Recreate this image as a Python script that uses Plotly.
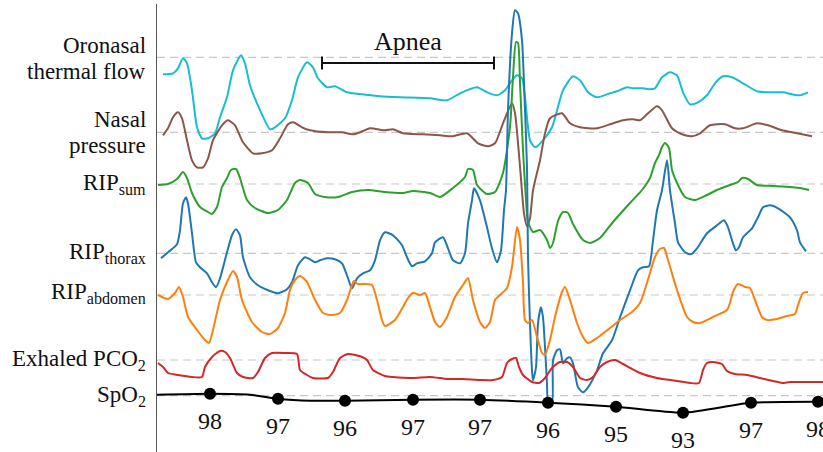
import plotly.graph_objects as go

# ---------------- data (time in samples, amplitude in display units) -------------
t_oro = [6,16,21,26,30,35,40,45,51,58,63,70,76,84,88,93,100,113,118,128,135,141,150,156,161,170,178,190,205,223,243,273,290,303,320,330,340,348,355,360,365,368,373,378,386,395,406,416,423,431,440,453,460,470,476,486,493,498,505,513,520,526,533,541,550,558,566,575,586,600,613,626,635,643,651]
v_oro = [-17,-16,-11,-1,-6,-33,-70,-81,-81,-76,-60,-40,-13,2,-6,-28,-46,-72,-70,-61,-43,-20,-5,-10,-21,-30,-29,-35,-37,-39,-40,-41,-43,-36,-30,-35,-38,-33,-23,-18,-21,-40,-83,-90,-83,-70,-33,-19,-23,-35,-40,-36,-34,-30,-31,-31,-32,-31,-20,-15,-18,-35,-47,-45,-38,-26,-19,-20,-26,-34,-35,-35,-37,-38,-35]

t_nasal = [6,11,16,21,25,30,35,40,46,51,56,65,71,78,86,96,105,115,123,131,136,145,153,171,185,196,203,213,228,236,246,266,283,295,310,321,331,338,346,355,358,363,367,370,373,376,383,388,393,405,413,423,440,453,466,476,483,491,500,505,515,525,535,543,553,568,578,586,600,611,625,640,655]
v_nasal = [-3,4,15,20,14,-8,-28,-35,-35,-26,-8,7,12,7,-10,-21,-21,-18,-6,8,10,5,2,0,0,-2,0,4,2,3,-1,-2,-3,-4,-1,-11,-14,-11,9,29,19,-34,-81,-94,-86,-58,-28,-1,14,19,9,5,4,8,12,13,12,19,26,22,4,-2,-4,-1,7,8,4,4,9,7,2,-1,-4]

t_sum = [1,11,20,26,30,35,43,51,55,60,65,70,74,79,83,90,98,111,121,130,138,143,151,158,168,181,195,211,228,246,256,273,283,296,308,311,316,320,330,338,346,353,356,359,361,363,366,369,371,376,383,390,393,396,401,406,411,416,426,433,443,456,473,485,493,498,502,505,508,512,515,520,528,538,550,560,573,581,585,591,600,616,643,652]
v_sum = [-1,0,5,12,6,-9,-23,-28,-30,-23,-3,6,14,15,6,-16,-24,-29,-26,-16,1,4,1,-10,-13,-13,-8,-6,-8,-9,-7,-9,-13,-4,7,15,14,-1,-10,-8,11,57,107,142,141,101,34,-16,-38,-48,-46,-56,-64,-59,-37,-28,-29,-40,-56,-59,-54,-38,-19,-6,6,21,29,37,41,36,14,1,-13,-16,-11,-6,-1,2,6,5,-1,-2,-4,-6]

t_thorax = [4,11,20,23,26,29,31,35,39,43,50,55,59,63,70,75,79,83,86,93,101,111,121,130,135,141,148,153,158,163,170,178,185,190,195,200,206,213,218,223,228,236,245,250,255,260,268,275,278,286,291,296,303,308,311,315,317,323,330,335,340,344,347,349,351,355,358,361,365,367,370,371,373,375,376,379,381,384,386,388,390,391,395,396,400,403,406,410,413,416,421,426,431,440,446,455,463,473,481,486,492,496,500,505,510,513,518,521,528,534,540,550,560,567,571,576,579,582,586,595,601,606,613,621,633,640,643,649]
v_thorax = [-5,1,9,23,50,56,50,20,-9,-14,-20,-29,-34,-25,1,18,24,18,-4,-24,-32,-37,-40,-36,-29,-12,-4,-6,-9,-7,-5,-6,-10,-22,-35,-25,-20,-17,-7,13,21,18,8,-4,-13,-10,-8,0,11,16,5,-7,-10,0,30,53,65,53,26,5,-9,3,43,63,143,220,243,240,213,170,86,-4,-70,-117,-127,-114,-70,-54,-64,-94,-130,-147,-149,-107,-97,-96,-110,-105,-104,-110,-134,-139,-134,-117,-100,-87,-64,-37,-17,-14,-13,13,43,63,93,63,30,11,1,-1,5,20,28,33,26,10,3,6,16,25,36,46,48,45,36,23,11,2]

t_abd = [1,11,18,22,26,31,40,48,52,56,63,70,76,80,85,95,105,113,121,128,133,138,143,150,158,166,175,183,190,195,197,201,208,215,220,225,228,238,246,251,256,263,268,273,278,283,290,298,306,311,316,323,328,333,338,343,350,355,360,363,366,368,371,375,380,385,388,393,398,405,408,413,420,426,431,440,453,463,475,483,490,498,503,507,511,520,530,536,543,556,570,573,576,581,588,593,598,605,610,620,630,638,641,646,651]
v_abd = [0,-4,2,8,-2,-22,-35,-45,-48,-35,-5,13,24,18,-5,-27,-37,-39,-33,-18,5,15,19,13,-5,-18,-20,-18,-5,10,14,11,11,10,-5,-25,-31,-25,-12,-3,2,0,2,-12,-27,-32,-22,-2,10,17,-5,-27,-33,-27,-5,0,7,28,68,55,12,-25,-28,-25,-42,-58,-60,-45,-22,3,8,-5,-28,-42,-48,-43,-33,-25,-17,-8,12,38,46,47,35,5,-22,-27,-28,-22,-15,-8,3,11,8,7,-5,-22,-25,-24,-21,-19,-10,2,3]

t_pco2 = [1,6,11,21,35,45,48,55,63,68,73,80,86,96,101,108,115,128,140,143,150,156,171,176,183,191,205,210,216,228,236,256,273,290,306,323,336,345,350,355,359,362,366,375,382,388,395,403,410,416,423,430,436,443,450,458,466,483,500,520,533,542,546,550,556,565,570,578,590,603,616,625,633,650,666]
v_pco2 = [-3,-7,-13,-15,-17,-17,-7,3,9,8,2,-13,-17,-18,-12,2,7,7,6,-10,-15,-18,-18,-12,2,6,3,0,-10,-16,-17,-18,-17,-19,-19,-20,-20,-17,-3,1,2,-7,-15,-22,-23,-18,-8,-2,-2,-7,-18,-20,-17,-7,-2,0,-4,-13,-18,-21,-23,-23,-10,-3,-2,-4,-11,-14,-15,-18,-21,-23,-22,-22,-22]

t_spo2_trace = [0,53,93,121,153,188,256,323,391,459,526,594,661,666]
v_spo2_trace = [1,2,1,-3,-5,-5,-4,-4,-7,-11,-17,-7,-6,-6]

t_spo2 = [53,121,188,256,323,391,459,526,594,661]
v_spo2_mark = [2,-3,-5,-4,-4,-7,-11,-17,-7,-6]
spo2_values = [98,97,96,97,97,96,95,93,97,98]

apnea_start, apnea_end = 165, 337

channel_labels = ["Oronasal<br>thermal flow", "Nasal<br>pressure", "RIP<sub>sum</sub>",
                  "RIP<sub>thorax</sub>", "RIP<sub>abdomen</sub>", "Exhaled PCO<sub>2</sub>", "SpO<sub>2</sub>"]

# ---------------- layout constants -------------
offsets = [394.7, 319.7, 268, 198.7, 157, 92, 56.3]
colors = ["#17becf", "#8c564b", "#2ca02c", "#1f77b4", "#ff7f0e", "#d62728", "#000000"]
FONT = "Liberation Serif"
FS = 23

fig = go.Figure()

series = [(t_oro, v_oro), (t_nasal, v_nasal), (t_sum, v_sum), (t_thorax, v_thorax),
          (t_abd, v_abd), (t_pco2, v_pco2), (t_spo2_trace, v_spo2_trace)]

shapes = []
for off in offsets:
    shapes.append(dict(type="line", xref="paper", x0=0, x1=1, yref="y", y0=off, y1=off,
                       line=dict(color="#c8c8c8", width=1.2, dash="8px,5px"), layer="below"))

for (t, v), off, c in zip(series, offsets, colors):
    fig.add_trace(go.Scatter(x=t, y=[off + a for a in v], mode="lines",
                             line=dict(color=c, width=2, shape="spline", smoothing=0.6),
                             hoverinfo="skip", cliponaxis=True))

fig.add_trace(go.Scatter(x=t_spo2, y=[offsets[6] + a for a in v_spo2_mark], mode="markers",
                         marker=dict(color="black", size=12), hoverinfo="skip", cliponaxis=False))

annotations = []
for t, a, val in zip(t_spo2, v_spo2_mark, spo2_values):
    annotations.append(dict(x=t, y=offsets[6] + a, yshift=-27, text=str(val), showarrow=False,
                            font=dict(family=FONT, size=24, color="#111"), xanchor="center", yanchor="middle"))

# channel labels on the left
label_pos = [[406.5, 381], [332.5, 307], [268.5], [199.5], [159], [92.3], [56.5]]
for lab, ys in zip(channel_labels, label_pos):
    parts = lab.split("<br>")
    for p, yy in zip(parts, ys):
        annotations.append(dict(xref="paper", x=0, xshift=-9, y=yy, yref="y", text=p, showarrow=False,
                                xanchor="right", yanchor="middle",
                                font=dict(family=FONT, size=FS, color="#111")))

# apnea bracket
ay = offsets[0] - 5.7
shapes.append(dict(type="line", xref="x", yref="y", x0=apnea_start, x1=apnea_end, y0=ay, y1=ay,
                   line=dict(color="#111", width=2)))
for xe in (apnea_start, apnea_end):
    shapes.append(dict(type="line", xref="x", yref="y", x0=xe, x1=xe, y0=ay - 6.5, y1=ay + 6.5,
                       line=dict(color="#111", width=2)))
annotations.append(dict(x=(apnea_start + apnea_end) / 2, y=411, text="Apnea", showarrow=False,
                        font=dict(family=FONT, size=26, color="#111"), xanchor="center", yanchor="middle"))

fig.update_layout(
    width=823, height=452,
    margin=dict(l=157, r=0, t=4, b=0),
    plot_bgcolor="white", paper_bgcolor="white",
    showlegend=False,
    shapes=shapes, annotations=annotations,
    xaxis=dict(range=[0, 666], visible=False, fixedrange=True),
    yaxis=dict(range=[0, 448], showline=True, linecolor="#555", linewidth=1.3, showgrid=False,
               zeroline=False, showticklabels=False, ticks="", fixedrange=True),
)

fig.write_html("out.html", config={"displayModeBar": False},
               post_script="document.body.style.margin='0';document.body.style.overflow='hidden';")
